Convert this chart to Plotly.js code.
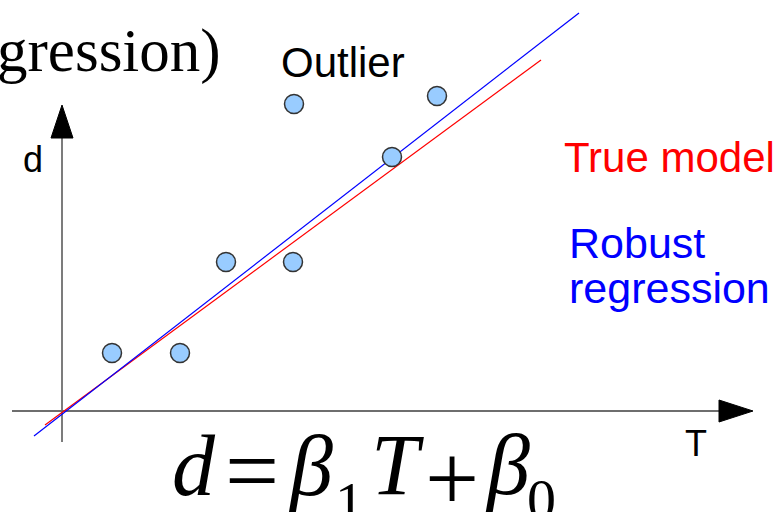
<!DOCTYPE html>
<html>
<head>
<meta charset="utf-8">
<script src="https://cdn.plot.ly/plotly-3.0.1.min.js"></script>
<style>
  html, body { margin: 0; padding: 0; background: #ffffff; }
  #chart { width: 783px; height: 512px; }
</style>
</head>
<body>
<div id="chart"></div>
<script>
// Observations: temperature T against measured d
const obsT = [1.0, 2.36, 3.28, 4.62, 4.64, 6.6, 7.5];
const obsD = [1.16, 1.16, 2.98, 2.98, 6.14, 5.08, 6.3];

// Line end points (T, d) for the two fitted models
const trueModelT = [-0.34, 9.58];
const trueModelD = [-0.28, 7.02];
const robustT = [-0.56, 10.34];
const robustD = [-0.5, 7.96];

// Text labels
const labelOutlier = 'Outlier';
const labelTrue = 'True model';
const labelRobust1 = 'Robust';
const labelRobust2 = 'regression';
const labelAxisD = 'd';
const labelAxisT = 'T';
const labelTitle = 'gression)';

const W = 783, H = 512;
const px = x => x / W;
const py = y => 1 - y / H;

// Place a label by pixel position of its box (left/right edge, vertical centre)
function label(text, x, yc, size, color, family, anchor) {
  return {
    text: text, xref: 'paper', yref: 'paper',
    x: px(x), y: py(yc), xanchor: anchor || 'left', yanchor: 'middle',
    showarrow: false,
    font: { family: family || 'Liberation Sans, Arial, sans-serif', size: size, color: color || '#000000' }
  };
}

const SERIF = 'Liberation Serif, Times New Roman, serif';
const BIG = 86, SUB = 58, OPS = 96;
// centre of a text box from its baseline for the serif face
const cen = (base, size) => base - 0.3375 * size;

const annotations = [
  label(labelTitle, 223, cen(72, 61), 61, '#000000', SERIF, 'right'),
  label(labelOutlier, 279, 62.6, 42),
  label(labelTrue, 562, 157.3, 42, '#ff0000'),
  label(labelRobust1, 567, 243, 43, '#0000ff'),
  label(labelRobust2, 567, 288, 43, '#0000ff'),
  label(labelAxisD, 20.5, 159.4, 36),
  label(labelAxisT, 683, 443, 36),
  // d = β1 T + β0
  label('<i>d</i>', 170, cen(495, BIG), BIG, '#000000', SERIF),
  label('=', 223, 470, OPS, '#000000', SERIF),
  label('<i>β</i>', 286, cen(495, BIG), BIG, '#000000', SERIF),
  label('1', 333, cen(522, SUB), SUB, '#000000', SERIF),
  label('<i>T</i>', 369, cen(494, BIG), BIG, '#000000', SERIF),
  label('+', 423, 477, OPS, '#000000', SERIF),
  label('<i>β</i>', 483, cen(494, BIG), BIG, '#000000', SERIF),
  label('0', 525, cen(519, SUB), SUB, '#000000', SERIF)
];

const axisColor = '#6e6e6e';
const shapes = [
  { type: 'line', xref: 'x', yref: 'y', x0: -1.0, y0: 0, x1: 13.16, y1: 0,
    line: { color: axisColor, width: 1.8 }, layer: 'below' },
  { type: 'line', xref: 'x', yref: 'y', x0: 0, y0: -0.62, x1: 0, y1: 5.46,
    line: { color: axisColor, width: 1.8 }, layer: 'below' },
  { type: 'path', xref: 'x', yref: 'y', path: 'M 13.14 0.22 L 13.82 0 L 13.14 -0.22 Z',
    fillcolor: '#000000', line: { color: '#000000', width: 1 } },
  { type: 'path', xref: 'x', yref: 'y', path: 'M -0.22 5.46 L 0 6.12 L 0.22 5.46 Z',
    fillcolor: '#000000', line: { color: '#000000', width: 1 } }
];

const traces = [
  { x: trueModelT, y: trueModelD, type: 'scatter', mode: 'lines',
    line: { color: '#ff0000', width: 1.2 }, hoverinfo: 'skip' },
  { x: robustT, y: robustD, type: 'scatter', mode: 'lines',
    line: { color: '#0000ff', width: 1.2 }, hoverinfo: 'skip' },
  { x: obsT, y: obsD, type: 'scatter', mode: 'markers',
    marker: { size: 19, color: '#99ccff', line: { color: '#333333', width: 1.5 } },
    hoverinfo: 'skip' }
];

const layout = {
  width: W, height: H,
  margin: { l: 0, r: 0, t: 0, b: 0, pad: 0 },
  paper_bgcolor: '#ffffff', plot_bgcolor: '#ffffff',
  showlegend: false, hovermode: false,
  xaxis: { range: [-1.24, 14.42], visible: false, fixedrange: true },
  yaxis: { range: [-2.02, 8.22], visible: false, fixedrange: true },
  shapes: shapes,
  annotations: annotations
};

Plotly.newPlot('chart', traces, layout, { staticPlot: true, displayModeBar: false });
</script>
</body>
</html>
